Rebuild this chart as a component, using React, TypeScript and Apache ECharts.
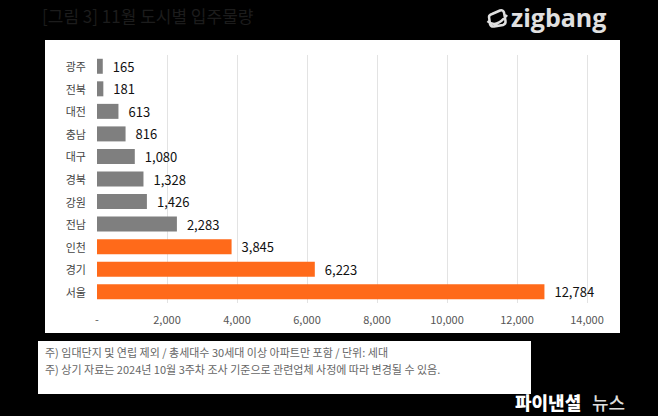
import React, { useEffect, useRef } from "react";
import * as echarts from "echarts";

const categories = ["광주", "전북", "대전", "충남", "대구", "경북", "강원", "전남", "인천", "경기", "서울"];
const values = [165, 181, 613, 816, 1080, 1328, 1426, 2283, 3845, 6223, 12784];
const highlighted = ["인천", "경기", "서울"];
const xTicks = [0, 2000, 4000, 6000, 8000, 10000, 12000, 14000];
const titleText = "[그림 3] 11월 도시별 입주물량";
const notes = [
  "주) 임대단지 및 연립 제외 / 총세대수 30세대 이상 아파트만 포함 / 단위: 세대",
  "주) 상기 자료는 2024년 10월 3주차 조사 기준으로 관련업체 사정에 따라 변경될 수 있음.",
];

const FONT = "'Noto Sans CJK KR', 'Noto Sans', sans-serif";

let registered = false;
function registerLogo() {
  if (registered) return;
  registered = true;
  echarts.graphic.registerShape(
    "logo",
    (echarts.graphic as any).extendPath(
      "M5 6 L13 2.5 Q16 1.5 17 4.5 L18.5 13 Q19 16 16 17 L7 18.5 Q4 19 3 16 L2 9 Q2 7 5 6 Z M0.5 13 Q9 21 20 7",
      {}
    )
  );
}

function fmt(v: number) {
  return v === 0 ? "-" : v.toLocaleString("en-US");
}

export default function App() {
  const ref = useRef<HTMLDivElement>(null);
  useEffect(() => {
    document.body.style.margin = "0";
    registerLogo();
    const chart = echarts.init(ref.current!, null, { renderer: "svg" });
    chart.setOption({
      animation: false,
      backgroundColor: "#000",
      grid: { left: 97, width: 490, top: 55, height: 248, containLabel: false },
      xAxis: {
        type: "value",
        min: 0,
        max: 14000,
        interval: 2000,
        axisLine: { show: false },
        axisTick: { show: false },
        splitLine: { show: true, showMinLine: false, lineStyle: { color: "#e3e3e3", width: 1 } },
        axisLabel: {
          color: "#555",
          fontSize: 11,
          fontFamily: FONT,
          margin: 10,
          formatter: (v: number) => (xTicks.includes(v) ? fmt(v) : ""),
        },
      },
      yAxis: {
        type: "category",
        inverse: true,
        data: categories,
        axisLine: { show: false },
        axisTick: { show: false },
        axisLabel: { color: "#444", fontSize: 11, fontFamily: FONT, margin: 11 },
      },
      series: [
        {
          type: "bar",
          barWidth: 15,
          data: values.map((v, i) => ({
            value: v,
            itemStyle: { color: highlighted.includes(categories[i]) ? "#ff6a1a" : "#7f7f7f" },
          })),
          label: {
            show: true,
            position: "right",
            distance: 10,
            color: "#111",
            fontSize: 13,
            fontFamily: FONT,
            formatter: (p: any) => fmt(p.value),
          },
        },
      ],
      graphic: [
        { type: "rect", z: -10, shape: { x: 45, y: 40, width: 575, height: 293 }, style: { fill: "#fff" } },
        { type: "rect", z: -10, shape: { x: 38, y: 341, width: 493, height: 53 }, style: { fill: "#fff" } },
        {
          type: "text",
          left: 42,
          top: 7,
          style: { text: titleText, fill: "#1c1c1c", font: `17px ${FONT}` },
        },
        {
          type: "logo",
          x: 487,
          y: 8,
          scaleX: 1,
          scaleY: 1,
          style: { fill: "none", stroke: "#e0e0e0", lineWidth: 2.5 },
        },
        {
          type: "text",
          left: 511,
          top: 4,
          style: { text: "zigbang", fill: "#e0e0e0", font: `bold 25px 'Open Sans', sans-serif` },
        },
        {
          type: "text",
          left: 45,
          top: 346,
          style: { text: notes[0], fill: "#666", font: `11px ${FONT}` },
        },
        {
          type: "text",
          left: 45,
          top: 363,
          style: { text: notes[1], fill: "#666", font: `11px ${FONT}` },
        },
        {
          type: "text",
          left: 515,
          top: 393,
          style: { text: "파이낸셜", fill: "#fff", font: `900 18px ${FONT}` },
        },
        {
          type: "text",
          left: 592,
          top: 393,
          style: { text: "뉴스", fill: "#ddd", font: `500 18px ${FONT}` },
        },
      ],
    });
    return () => chart.dispose();
  }, []);
  return <div ref={ref} style={{ width: 658, height: 416 }} />;
}
